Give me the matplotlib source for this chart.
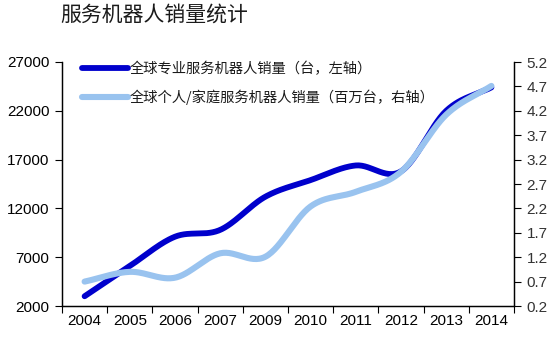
import numpy as np
import matplotlib
matplotlib.use("Agg")
import matplotlib.pyplot as plt
from matplotlib.lines import Line2D

plt.rcParams['font.family'] = ['Liberation Sans', 'Noto Sans CJK SC', 'DejaVu Sans']

years = ['2004', '2005', '2006', '2007', '2009', '2010', '2011', '2012', '2013', '2014']
professional_units = [3000, 6100, 9100, 9800, 13200, 14900, 16400, 15800, 22000, 24400]
personal_millions = [0.70, 0.90, 0.78, 1.28, 1.21, 2.24, 2.54, 2.95, 4.12, 4.71]

left_ticks = [2000, 7000, 12000, 17000, 22000, 27000]
right_ticks = [0.2, 0.7, 1.2, 1.7, 2.2, 2.7, 3.2, 3.7, 4.2, 4.7, 5.2]

title = '服务机器人销量统计'
label_pro = '全球专业服务机器人销量（台，左轴）'
label_personal = '全球个人/家庭服务机器人销量（百万台，右轴）'

DARK = '#0000CC'
LIGHT = '#99C3EF'


def smooth(xs, ys, n=30, tension=0.5):
    """Cardinal spline through the points, like a smoothed office-chart line."""
    xs = np.asarray(xs, float)
    ys = np.asarray(ys, float)
    px = np.concatenate([[2 * xs[0] - xs[1]], xs, [2 * xs[-1] - xs[-2]]])
    py = np.concatenate([[2 * ys[0] - ys[1]], ys, [2 * ys[-1] - ys[-2]]])
    out_x, out_y = [], []
    t = np.linspace(0, 1, n, endpoint=False)
    for i in range(1, len(px) - 2):
        m1x = tension * (px[i + 1] - px[i - 1])
        m1y = tension * (py[i + 1] - py[i - 1])
        m2x = tension * (px[i + 2] - px[i])
        m2y = tension * (py[i + 2] - py[i])
        h00 = 2 * t**3 - 3 * t**2 + 1
        h10 = t**3 - 2 * t**2 + t
        h01 = -2 * t**3 + 3 * t**2
        h11 = t**3 - t**2
        out_x.extend(h00 * px[i] + h10 * m1x + h01 * px[i + 1] + h11 * m2x)
        out_y.extend(h00 * py[i] + h10 * m1y + h01 * py[i + 1] + h11 * m2y)
    out_x.append(xs[-1])
    out_y.append(ys[-1])
    return np.array(out_x), np.array(out_y)


fig = plt.figure(figsize=(5.58, 3.40), dpi=100)
ax = fig.add_axes([62 / 558, 1 - 306 / 340, (514 - 62) / 558, (306 - 62) / 340])
ax2 = ax.twinx()

x = np.arange(len(years))

# professional series on the left axis, personal/household series drawn above it on the right axis
sx, sy = smooth(x, professional_units)
ax.plot(sx, sy, color=DARK, lw=4.2, solid_capstyle='round')

lx, ly = smooth(x, personal_millions)
ax2.plot(lx, ly, color=LIGHT, lw=4.4, solid_capstyle='round')

ax.set_xlim(-0.5, len(years) - 0.5)
ax.set_ylim(2000, 27000)
ax2.set_ylim(0.2, 5.2)
ax.set_yticks(left_ticks)
ax.set_yticklabels([str(v) for v in left_ticks])
ax2.set_yticks(right_ticks)
ax2.set_yticklabels([f'{v:.1f}' for v in right_ticks])

ax.set_xticks(np.arange(-0.5, len(years), 1.0))
ax.set_xticklabels([])
ax.set_xticks(x, minor=True)
ax.set_xticklabels(years, minor=True)
ax.tick_params(axis='x', which='major', length=5, width=0.8, direction='out', color='black')
ax.tick_params(axis='x', which='minor', length=0, pad=6, labelsize=11)
ax.tick_params(axis='y', length=5, width=0.8, labelsize=11, pad=4)
ax2.tick_params(axis='y', length=5, width=0.8, labelsize=11, pad=4, colors='black')
for t in ax2.get_yticklabels():
    t.set_color('#333333')

for a in (ax, ax2):
    a.spines['top'].set_visible(False)
    for s in ('left', 'right', 'bottom'):
        a.spines[s].set_linewidth(0.9)
        a.spines[s].set_color('black')

handles = [Line2D([], [], color=DARK, lw=4.2, solid_capstyle='round'),
           Line2D([], [], color=LIGHT, lw=4.4, solid_capstyle='round')]
leg = ax2.legend(handles, [label_pro, label_personal], loc='upper left',
                 bbox_to_anchor=(20 / 452, 1.0), frameon=False,
                 prop={'family': ['Noto Sans CJK SC'], 'size': 10.3},
                 handlelength=3.2, handletextpad=0.1, labelspacing=0.95,
                 borderaxespad=0.0, borderpad=0.0)
for t in leg.get_texts():
    t.set_color('#1a1a1a')

fig.text(60 / 558, 1 - 15 / 340, title, ha='left', va='center',
         fontsize=15, fontweight='medium', family=['Noto Sans CJK SC'], color='#1a1a1a')

fig.savefig('out.png', dpi=100, facecolor='white')
